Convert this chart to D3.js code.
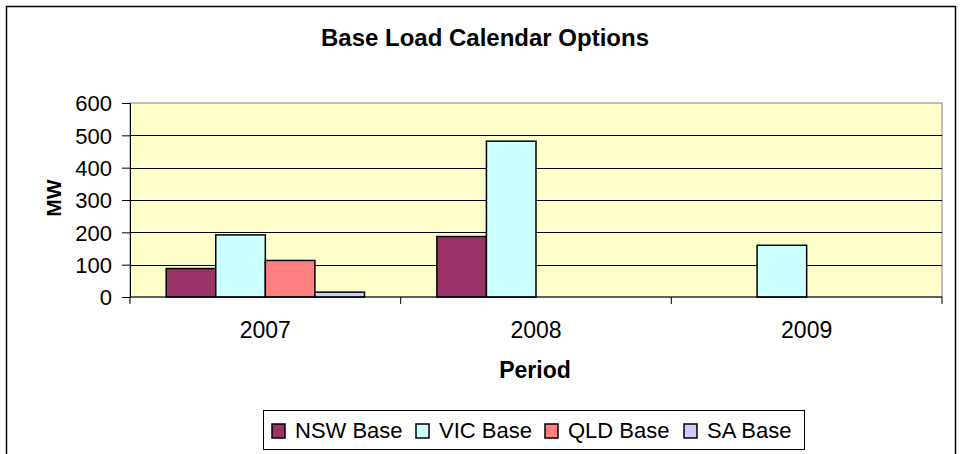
<!DOCTYPE html>
<html>
<head>
<meta charset="utf-8">
<script src="https://cdn.jsdelivr.net/npm/d3@7"></script>
<style>
  body { margin: 0; background: #fff; }
  svg { display: block; font-family: "Liberation Sans", Arial, sans-serif; }
</style>
</head>
<body>
<div id="chart"></div>
<script>
// chart data
const periods = ["2007", "2008", "2009"];
const seriesNames = ["NSW Base", "VIC Base", "QLD Base", "SA Base"];
const nswBase = [88, 187, 0];
const vicBase = [192, 482, 160];
const qldBase = [113, 0, 0];
const saBase = [15, 0, 0];
const yTicks = [0, 100, 200, 300, 400, 500, 600];

const seriesColors = ["#993366", "#CCFFFF", "#FF8080", "#CCCCFF"];

let width = 963, height = 454,
    margin = ({ top: 103, right: 21, bottom: 157, left: 130 });

const svg = d3.select("#chart")
    .append("svg")
    .attr("width", width)
    .attr("height", height);

// outer frame
svg.append("rect")
    .attr("x", 6.5).attr("y", 6.5)
    .attr("width", 949).attr("height", 460)
    .attr("fill", "#fff")
    .attr("stroke", "#000")
    .attr("stroke-width", 1.5);

// build rows from the arrays
const allSeries = [nswBase, vicBase, qldBase, saBase];
const rows = periods.map((p, i) => ({
  period: p,
  values: seriesNames.map((s, j) => ({ name: s, value: allSeries[j][i] }))
}));

let x = d3.scaleBand()
    .domain(periods)
    .range([margin.left, width - margin.right]);

let xInner = d3.scaleBand()
    .domain(seriesNames)
    .range([0, x.bandwidth()])
    .paddingOuter(0.73);

let y = d3.scaleLinear()
    .domain([0, 600])
    .range([height - margin.bottom, margin.top]);

let color = d3.scaleOrdinal().domain(seriesNames).range(seriesColors);

// plot background
svg.append("rect")
    .attr("x", margin.left)
    .attr("y", margin.top)
    .attr("width", width - margin.left - margin.right)
    .attr("height", height - margin.top - margin.bottom)
    .attr("fill", "#FFFFCC")
    .attr("stroke", "#808080")
    .attr("stroke-width", 1);

// gridlines
svg.append("g")
    .selectAll("line")
    .data(yTicks.filter(d => d > 0 && d < 600))
    .join("line")
    .attr("x1", margin.left)
    .attr("x2", width - margin.right)
    .attr("y1", d => Math.round(y(d)) + 0.5)
    .attr("y2", d => Math.round(y(d)) + 0.5)
    .attr("stroke", "#000")
    .attr("stroke-width", 1);

// bars
svg.append("g")
    .selectAll("g")
    .data(rows)
    .join("g")
    .attr("transform", d => `translate(${x(d.period)},0)`)
    .selectAll("rect")
    .data(d => d.values.filter(v => v.value > 0))
    .join("rect")
    .attr("x", d => xInner(d.name))
    .attr("y", d => y(d.value))
    .attr("width", xInner.bandwidth())
    .attr("height", d => y(0) - y(d.value))
    .attr("fill", d => color(d.name))
    .attr("stroke", "#000")
    .attr("stroke-width", 1.5);

// y axis
svg.append("g")
    .attr("transform", `translate(${margin.left},0)`)
    .call(d3.axisLeft(y).tickValues(yTicks).tickSize(8).tickPadding(10))
    .call(g => g.select(".domain").attr("stroke", "#000"))
    .call(g => g.selectAll("text").attr("font-size", 22).attr("fill", "#000")
        .attr("dy", "0.36em")
        .attr("font-family", "Liberation Sans, Arial, sans-serif"));

// x axis: ticks at category boundaries
const xAxis = svg.append("g")
    .attr("transform", `translate(0,${height - margin.bottom})`);
xAxis.append("line")
    .attr("x1", margin.left).attr("x2", width - margin.right)
    .attr("stroke", "#000");
xAxis.selectAll(".bound")
    .data(periods.concat(["end"]))
    .join("line")
    .attr("x1", (d, i) => i < periods.length ? x(d) : x(periods[periods.length - 1]) + x.bandwidth())
    .attr("x2", (d, i) => i < periods.length ? x(d) : x(periods[periods.length - 1]) + x.bandwidth())
    .attr("y1", 0).attr("y2", 7)
    .attr("stroke", "#000");
xAxis.selectAll("text")
    .data(periods)
    .join("text")
    .attr("x", d => x(d) + x.bandwidth() / 2)
    .attr("y", 41)
    .attr("text-anchor", "middle")
    .attr("font-size", 23)
    .text(d => d);

// title
svg.append("text")
    .attr("x", 485).attr("y", 46)
    .attr("text-anchor", "middle")
    .attr("font-size", 24)
    .attr("font-weight", "bold")
    .text("Base Load Calendar Options");

// axis titles
svg.append("text")
    .attr("x", 535).attr("y", 378)
    .attr("text-anchor", "middle")
    .attr("font-size", 23)
    .attr("font-weight", "bold")
    .text("Period");

svg.append("text")
    .attr("transform", "translate(61,198) rotate(-90)")
    .attr("text-anchor", "middle")
    .attr("font-size", 21)
    .attr("font-weight", "bold")
    .text("MW");

// legend
const legend = svg.append("g");
legend.append("rect")
    .attr("x", 263.5).attr("y", 410.5)
    .attr("width", 541).attr("height", 39)
    .attr("fill", "#fff")
    .attr("stroke", "#000")
    .attr("stroke-width", 1);

const legendX = [272, 416, 545, 684];
const items = legend.selectAll("g.item")
    .data(seriesNames)
    .join("g")
    .attr("class", "item")
    .attr("transform", (d, i) => `translate(${legendX[i]},424)`);
items.append("rect")
    .attr("width", 13).attr("height", 14)
    .attr("fill", d => color(d))
    .attr("stroke", "#000")
    .attr("stroke-width", 1.5);
items.append("text")
    .attr("x", 23).attr("y", 14)
    .attr("font-size", 22)
    .text(d => d);
</script>
</body>
</html>
